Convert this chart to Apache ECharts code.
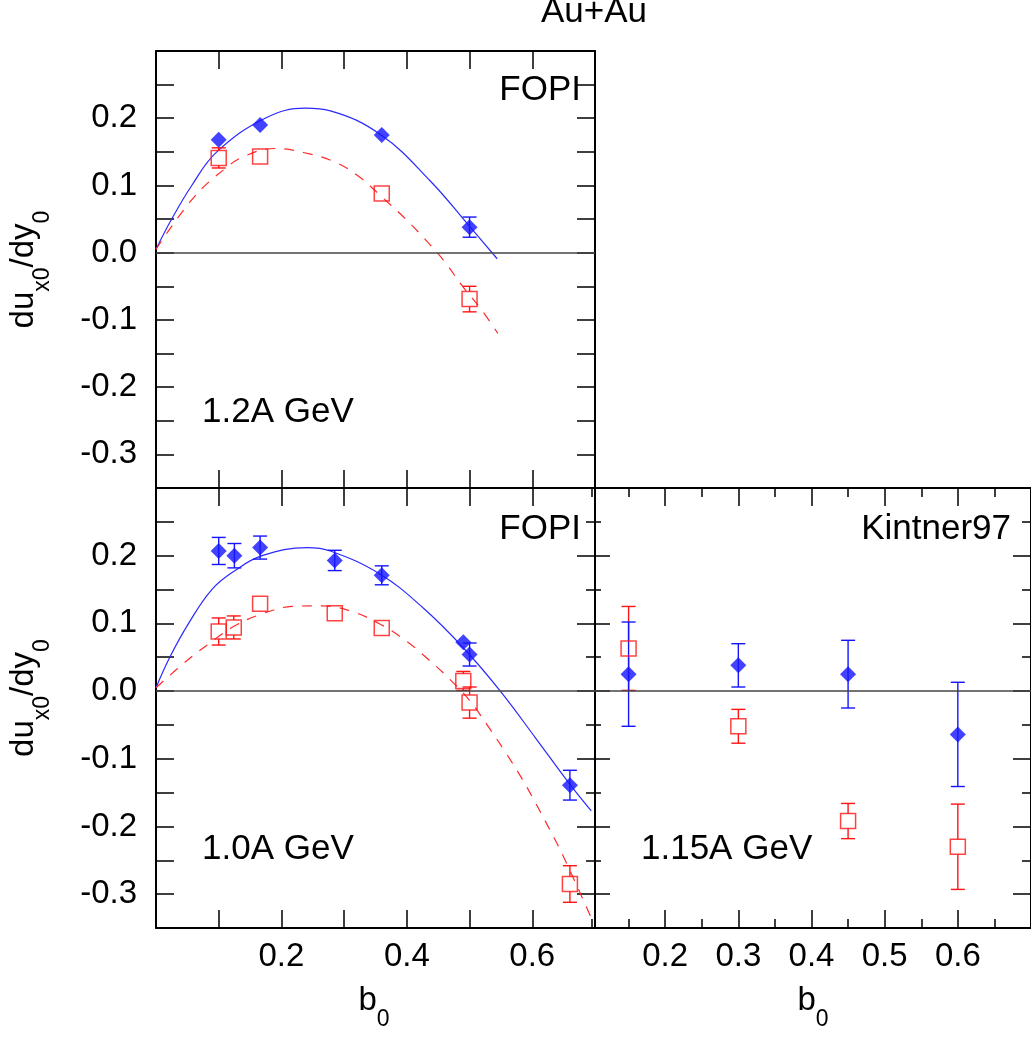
<!DOCTYPE html>
<html>
<head>
<meta charset="utf-8">
<script src="https://cdn.jsdelivr.net/npm/echarts@6/dist/echarts.min.js"></script>
<style>
html, body { margin: 0; padding: 0; background: #fff; }
#main { width: 1031px; height: 1040px; }
</style>
</head>
<body>
<div id="main"></div>
<script>
// ---- 1.2A GeV (top-left), FOPI ----
var b12Blue = [0.10, 0.166, 0.36, 0.50];
var v12Blue = [0.168, 0.190, 0.175, 0.038];
var e12Blue = [0, 0, 0, 0.015];
var b12Red = [0.10, 0.166, 0.36, 0.50];
var v12Red = [0.141, 0.143, 0.088, -0.069];
var e12Red = [0.015, 0, 0, 0.019];
// fit curves
var fit12BlueB = [0.0, 0.025, 0.057, 0.097, 0.174, 0.238, 0.278, 0.359, 0.437, 0.501, 0.544];
var fit12BlueV = [0.005, 0.050, 0.100, 0.150, 0.200, 0.215, 0.211, 0.175, 0.107, 0.038, -0.009];
var fit12RedB = [0.0, 0.06, 0.11, 0.142, 0.19, 0.235, 0.285, 0.324, 0.36, 0.396, 0.428, 0.46, 0.488, 0.519, 0.545];
var fit12RedV = [0.005, 0.082, 0.125, 0.144, 0.155, 0.149, 0.135, 0.113, 0.083, 0.052, 0.021, -0.013, -0.049, -0.085, -0.120];

// ---- 1.0A GeV (bottom-left), FOPI ----
var b10Blue = [0.10, 0.125, 0.166, 0.285, 0.36, 0.49, 0.50, 0.66];
var v10Blue = [0.207, 0.200, 0.212, 0.193, 0.171, 0.072, 0.054, -0.139];
var e10Blue = [0.020, 0.018, 0.017, 0.015, 0.014, 0, 0.017, 0.022];
var b10Red = [0.10, 0.124, 0.166, 0.285, 0.36, 0.49, 0.50, 0.66];
var v10Red = [0.088, 0.094, 0.129, 0.115, 0.093, 0.015, -0.017, -0.285];
var e10Red = [0.020, 0.017, 0, 0, 0, 0.014, 0.023, 0.027];
var fit10BlueB = [0.0, 0.022, 0.052, 0.089, 0.126, 0.169, 0.241, 0.278, 0.357, 0.427, 0.49, 0.549, 0.605, 0.661, 0.694];
var fit10BlueV = [0.005, 0.050, 0.100, 0.150, 0.178, 0.200, 0.212, 0.207, 0.173, 0.122, 0.064, 0.0, -0.069, -0.139, -0.177];
var fit10RedB = [0.0, 0.048, 0.086, 0.125, 0.169, 0.217, 0.265, 0.311, 0.357, 0.399, 0.434, 0.469, 0.501, 0.528, 0.557, 0.584, 0.605, 0.628, 0.65, 0.694];
var fit10RedV = [0.005, 0.044, 0.071, 0.096, 0.114, 0.125, 0.126, 0.118, 0.099, 0.074, 0.047, 0.017, -0.015, -0.050, -0.090, -0.130, -0.165, -0.205, -0.245, -0.335];

// ---- 1.15A GeV (bottom-right), Kintner97 ----
var b115 = [0.15, 0.30, 0.45, 0.60];
var v115Blue = [0.025, 0.038, 0.025, -0.064];
var e115Blue = [0.077, 0.032, 0.050, 0.077];
var v115Red = [0.063, -0.052, -0.192, -0.230];
var e115Red = [0.062, 0.025, 0.026, 0.063];

// ---- ticks / labels ----
var yLabels = [-0.3, -0.2, -0.1, 0.0, 0.1, 0.2];
var yMajor = [-0.3, -0.2, -0.1, 0.0, 0.1, 0.2];
var xLabelsLeft = [0.2, 0.4, 0.6];
var xLabelsRight = [0.2, 0.3, 0.4, 0.5, 0.6];
var xMajorRight = [0.2, 0.3, 0.4, 0.5, 0.6];

var FONT = 'Liberation Sans';
var BLUE = '#1414ff';
var RED = '#ff1414';

var chart = echarts.init(document.getElementById('main'));

// one axis; tick = {interval, values, length}, label = {values, margin} or null
function axis(gridIndex, position, range, tick, label, noLine) {
    return {
        type: 'value',
        gridIndex: gridIndex,
        position: position,
        min: range[0],
        max: range[1],
        interval: tick.interval,
        axisLine: { show: !noLine, onZero: false, lineStyle: { color: '#000', width: 2 } },
        axisTick: {
            show: true, inside: true, length: tick.length,
            customValues: tick.values,
            lineStyle: { color: '#000', width: 1.5 }
        },
        axisLabel: label ? {
            show: true,
            customValues: label.values,
            margin: label.margin,
            color: '#000',
            fontFamily: FONT,
            fontSize: 33,
            formatter: function (v) { return (+v).toFixed(1) }
        } : { show: false },
        splitLine: { show: false }
    }
}

var xL = [0, 0.7], xR = [0.1, 0.7], yR = [-0.35, 0.3];

var xAxes = [
    axis(0, 'bottom', xL, { interval: 0.1, length: 18 }),   // 0
    axis(0, 'top', xL, { interval: 0.1, length: 18 }),      // 1
    axis(1, 'bottom', xL, { interval: 0.1, length: 18 }, { values: xLabelsLeft, margin: 12 }), // 2
    axis(1, 'top', xL, { interval: 0.1, length: 18 }),      // 3
    axis(2, 'bottom', xR, { interval: 0.05, length: 9 }, { values: xLabelsRight, margin: 12 }), // 4
    axis(2, 'bottom', xR, { values: xMajorRight, length: 18 }), // 5
    axis(2, 'top', xR, { interval: 0.05, length: 9 }),      // 6
    axis(2, 'top', xR, { values: xMajorRight, length: 18 }) // 7
];
var yAxes = [
    axis(0, 'left', yR, { interval: 0.05, length: 18 }, { values: yLabels, margin: 19 }), // 0
    axis(0, 'right', yR, { interval: 0.05, length: 18 }),   // 1
    axis(1, 'left', yR, { interval: 0.05, length: 18 }, { values: yLabels, margin: 19 }), // 2
    axis(1, 'right', yR, { interval: 0.05, length: 9 }),    // 3
    axis(1, 'right', yR, { values: yMajor, length: 18 }),   // 4
    axis(2, 'left', yR, { interval: 0.05, length: 9 }, null, true),  // 5
    axis(2, 'left', yR, { values: yMajor, length: 18 }, null, true), // 6
    axis(2, 'right', yR, { interval: 0.05, length: 9 }),    // 7
    axis(2, 'right', yR, { values: yMajor, length: 18 })    // 8
];

function pairs(xs, ys) {
    return xs.map(function (x, i) { return [x, ys[i]] })
}

function fitLine(xs, ys, color, dashed, xi, yi) {
    return {
        type: 'line', xAxisIndex: xi, yAxisIndex: yi,
        data: pairs(xs, ys),
        smooth: 0.4, showSymbol: false, silent: true, z: 2,
        lineStyle: { color: color, width: 1.2, type: dashed ? [10, 9] : 'solid' }
    }
}

function points(xs, ys, hollow, color, xi, yi, zeroLine) {
    var s = {
        type: 'scatter', xAxisIndex: xi, yAxisIndex: yi,
        data: pairs(xs, ys),
        symbol: hollow ? 'rect' : 'diamond',
        symbolSize: hollow ? 15 : 16,
        z: 4, silent: true,
        itemStyle: hollow
            ? { color: 'rgba(0,0,0,0)', borderColor: color, borderWidth: 1.5 }
            : { color: color }
    };
    if (zeroLine) {
        s.markLine = {
            silent: true, symbol: ['none', 'none'], label: { show: false },
            lineStyle: { color: '#444', width: 1.5, type: 'solid' },
            data: [{ yAxis: 0 }]
        }
    }
    return s
}

// vertical error bars with caps; gap keeps the bar out of hollow squares
function errBars(xs, ys, es, color, gap, xi, yi) {
    return {
        type: 'custom', xAxisIndex: xi, yAxisIndex: yi, z: 3, silent: true,
        data: xs.map(function (x, i) { return [x, ys[i], es[i]] }),
        encode: { x: 0, y: 1 },
        renderItem: function (params, api) {
            var x = api.value(0), y = api.value(1), e = api.value(2);
            if (!e) return;
            var top = api.coord([x, y + e]);
            var bot = api.coord([x, y - e]);
            var mid = api.coord([x, y]);
            var w = 7;
            var st = { stroke: color, lineWidth: 1.4 };
            var kids = [
                { type: 'line', shape: { x1: top[0] - w, y1: top[1], x2: top[0] + w, y2: top[1] }, style: st },
                { type: 'line', shape: { x1: bot[0] - w, y1: bot[1], x2: bot[0] + w, y2: bot[1] }, style: st }
            ];
            if (mid[1] - gap > top[1]) {
                kids.push({ type: 'line', shape: { x1: mid[0], y1: top[1], x2: mid[0], y2: mid[1] - gap }, style: st });
                kids.push({ type: 'line', shape: { x1: mid[0], y1: mid[1] + gap, x2: mid[0], y2: bot[1] }, style: st });
            }
            return { type: 'group', children: kids }
        }
    }
}

function label(text, x, y, align) {
    return {
        type: 'text', x: x, y: y, z: 10, silent: true,
        style: { text: text, fill: '#000', font: '35px "' + FONT + '"', align: align, verticalAlign: 'middle' }
    }
}

// main glyphs sit at the top of a 47px line, the subscript at its bottom
var richSub = {
    m: { fontFamily: FONT, fontSize: 33, lineHeight: 47, verticalAlign: 'top', color: '#000' },
    s: { fontFamily: FONT, fontSize: 23, verticalAlign: 'bottom', color: '#000' }
};

function yName(y) {
    return {
        type: 'text', x: 7, y: y, rotation: Math.PI / 2, z: 10, silent: true,
        style: { text: '{m|du}{s|x0}{m|/dy}{s|0}', rich: richSub, align: 'center', verticalAlign: 'top' }
    }
}

function xName(x) {
    return {
        type: 'text', x: x, y: 984, z: 10, silent: true,
        style: { text: '{m|b}{s|0}', rich: richSub, align: 'center', verticalAlign: 'top' }
    }
}

var option = {
    animation: false,
    backgroundColor: '#fff',
    grid: [
        { left: 156, top: 51, width: 439, height: 437 },
        { left: 156, top: 488, width: 439, height: 440 },
        { left: 592, top: 488, width: 442, height: 440 }
    ],
    xAxis: xAxes,
    yAxis: yAxes,
    graphic: [
        label('Au+Au', 594, 12, 'center'),
        label('FOPI', 581, 90.5, 'right'),
        label('1.2A GeV', 202, 412, 'left'),
        label('FOPI', 581, 529.5, 'right'),
        label('1.0A GeV', 202, 849.5, 'left'),
        label('Kintner97', 1011, 529.5, 'right'),
        label('1.15A GeV', 641, 849.5, 'left'),
        yName(269.5),
        yName(698),
        xName(374),
        xName(813)
    ],
    series: [
        // top-left
        fitLine(fit12BlueB, fit12BlueV, '#2a2aff', false, 0, 0),
        fitLine(fit12RedB, fit12RedV, '#ff2a2a', true, 0, 0),
        errBars(b12Blue, v12Blue, e12Blue, BLUE, 0, 0, 0),
        errBars(b12Red, v12Red, e12Red, RED, 7.5, 0, 0),
        points(b12Blue, v12Blue, false, BLUE, 0, 0, true),
        points(b12Red, v12Red, true, RED, 0, 0),
        // bottom-left
        fitLine(fit10BlueB, fit10BlueV, '#2a2aff', false, 2, 2),
        fitLine(fit10RedB, fit10RedV, '#ff2a2a', true, 2, 2),
        errBars(b10Blue, v10Blue, e10Blue, BLUE, 0, 2, 2),
        errBars(b10Red, v10Red, e10Red, RED, 7.5, 2, 2),
        points(b10Blue, v10Blue, false, BLUE, 2, 2, true),
        points(b10Red, v10Red, true, RED, 2, 2),
        // bottom-right
        errBars(b115, v115Red, e115Red, RED, 7.5, 4, 5),
        errBars(b115, v115Blue, e115Blue, BLUE, 0, 4, 5),
        points(b115, v115Blue, false, BLUE, 4, 5, true),
        points(b115, v115Red, true, RED, 4, 5)
    ]
};

chart.setOption(option);
</script>
</body>
</html>
